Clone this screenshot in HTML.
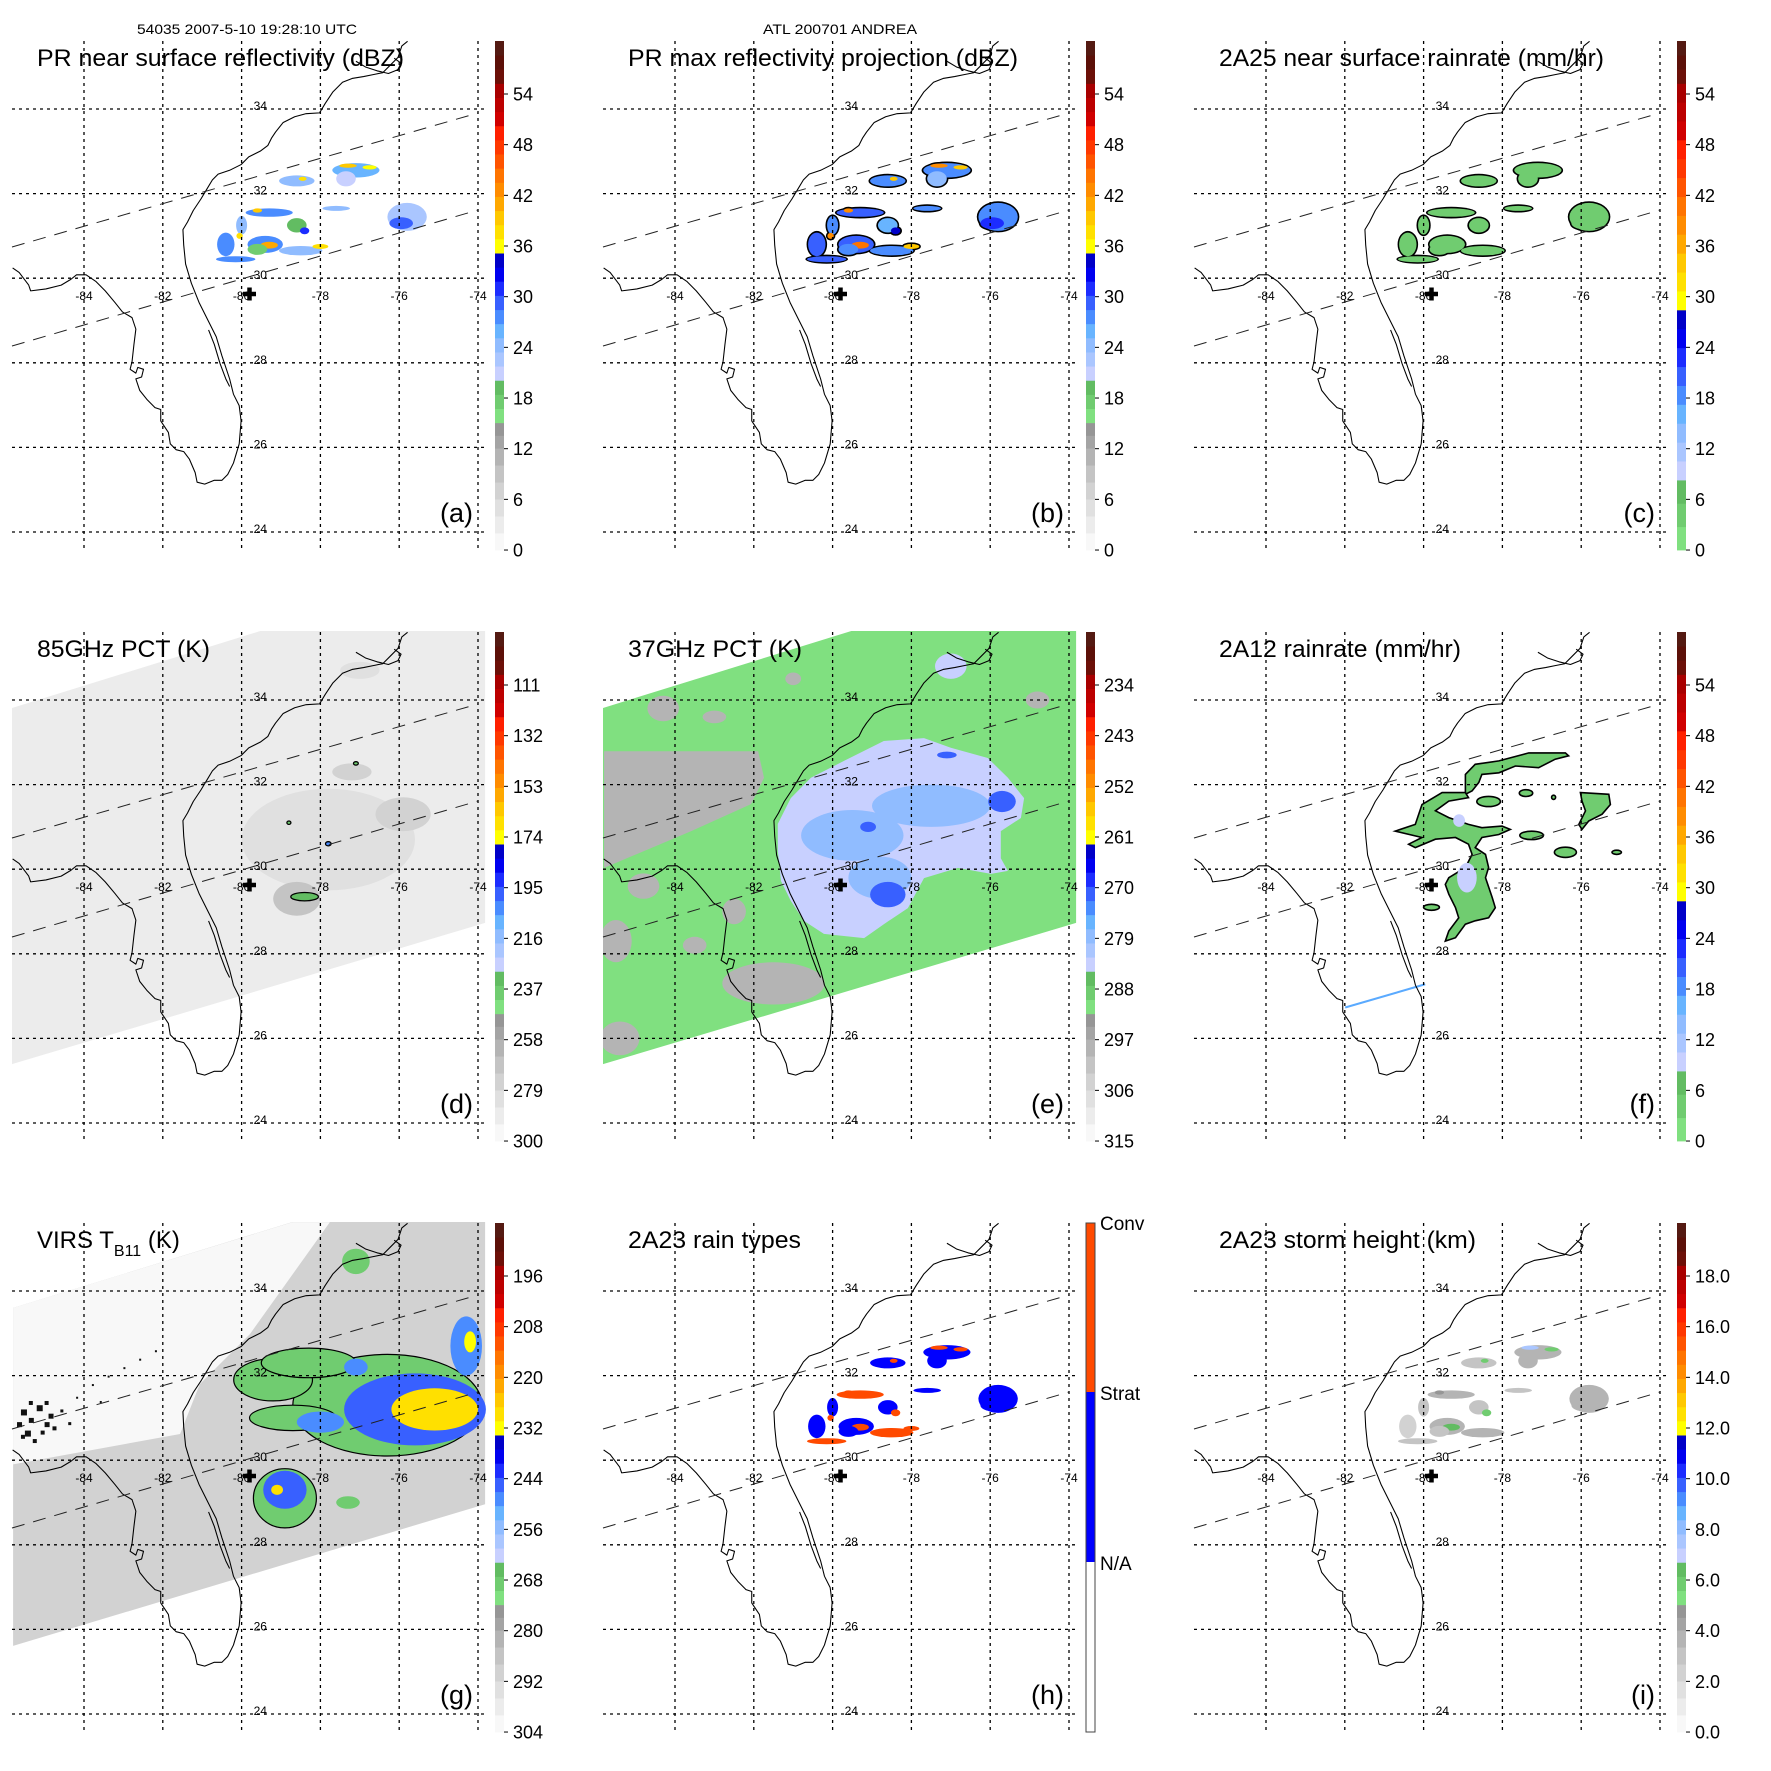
<!DOCTYPE html>
<html><head><meta charset="utf-8"><title>TRMM overpass ANDREA</title>
<style>
html,body{margin:0;padding:0;background:#fff;}
svg{display:block;font-family:"Liberation Sans",Arial,sans-serif;}
</style></head>
<body>
<svg id="fig" xmlns="http://www.w3.org/2000/svg" width="1771" height="1771" viewBox="0 0 1771 1771">
<rect width="1771" height="1771" fill="#fff"/>
</svg>
<script>
// ---------- shared rain-cell geometry (lon, lat, radius lon deg, radius lat deg) ----------
const cellLon=[-77.1,-77.35,-77.3,-76.75,-78.6,-78.45,-75.8,-75.95,-79.3,-79.6,-77.6,-78.6,-78.4,-79.4,-79.3,-79.6,-78.5,-78.0,-80.4,-80.15,-80.0,-80.05];
const cellLat=[32.55,32.35,32.66,32.62,32.3,32.35,31.45,31.3,31.55,31.6,31.65,31.25,31.12,30.8,30.78,30.68,30.65,30.75,30.8,30.45,31.25,31.0];
const cellRx=[0.6,0.25,0.22,0.18,0.45,0.1,0.5,0.3,0.6,0.12,0.35,0.25,0.12,0.45,0.22,0.25,0.55,0.2,0.22,0.5,0.14,0.08];
const cellRy=[0.17,0.18,0.05,0.05,0.13,0.05,0.33,0.14,0.1,0.05,0.06,0.17,0.08,0.2,0.08,0.13,0.11,0.06,0.28,0.07,0.22,0.07];
// per-panel values
const valsA=[26,21,39,36,25,38,23,29,27,39,24,20,31,28,41,17,24,37,28,27,25,38];
const valsB=[28,24,42,40,27,40,27,31,29,42,28,26,34,30,44,27,28,40,30,29,28,42];
const valsC=[4,3,null,null,3,null,4,5,3,null,3,3,null,4,null,3,4,null,3,3,3,null];
const valsH=[1,1,2,2,1,2,1,1,2,2,1,1,2,1,2,1,2,2,1,2,1,2];
const valsI=[3.5,4,7.8,6,3.2,6,4,3.6,3.4,5,3,3.2,6,3.8,6.5,3,3.5,null,2.5,2.8,3,null];

// ---------- swaths (lon/lat corners) ----------
const swathTMI=[[-85.83,33.81],[-73.82,37.28],[-73.82,28.73],[-85.83,25.39]];
const swathVIRS=[[-85.80,33.60],[-73.82,37.03],[-73.82,28.96],[-85.80,25.61]];
// ---------- panel d (85GHz PCT) ----------
const bgD=290;
const patchD=[[-77.8,30.7,2.2,1.2,283],[-75.9,31.3,0.7,0.4,272],[-78.6,29.3,0.6,0.4,270],[-77.2,32.3,0.5,0.2,274],[-77.0,34.7,0.5,0.2,280]];
const spotD=[[-78.4,29.35,0.35,0.1,235],[-77.1,32.5,0.06,0.04,236],[-78.8,31.1,0.05,0.04,236],[-77.8,30.6,0.07,0.05,205]];
// ---------- panel e (37GHz PCT) ----------
const bgE=290;
const grayPolyE=[[-85.8,32.79],[-81.89,32.79],[-81.74,32.16],[-82.07,31.54],[-83.59,30.9],[-85.8,30.03]];
const grayCellE=[[-81.5,27.3,1.3,0.5,298],[-85.5,28.3,0.4,0.5,298],[-85.4,26.0,0.5,0.4,298],[-84.3,33.8,0.4,0.3,298],[-82.5,29.0,0.3,0.3,298],[-83.0,33.6,0.3,0.15,298],[-81.0,34.5,0.2,0.15,298],[-84.8,29.6,0.4,0.3,298],[-83.5,28.2,0.3,0.2,298],[-74.8,34.0,0.3,0.2,298]];
const blobE=[[-81.39,31.07],[-81.06,31.68],[-80.55,32.16],[-79.71,32.56],[-78.7,33.03],[-77.68,33.1],[-77.0,32.87],[-76.06,32.63],[-75.55,32.16],[-75.14,31.68],[-75.22,31.21],[-75.73,30.9],[-75.73,30.26],[-75.55,29.96],[-75.98,29.89],[-76.82,30.03],[-77.68,29.79],[-78.09,29.08],[-78.7,28.7],[-79.2,28.37],[-80.22,28.47],[-80.73,28.78],[-81.06,29.25],[-81.31,29.72],[-81.39,30.43]];
const blobValE=284;
const coreE=[[-79.5,30.8,1.3,0.6,278],[-77.5,31.5,1.5,0.5,278],[-78.8,29.8,0.8,0.5,278],[-78.6,29.4,0.45,0.3,270],[-75.7,31.6,0.35,0.25,271],[-77.1,32.7,0.25,0.08,271],[-79.1,31.0,0.2,0.12,272],[-77.0,34.8,0.4,0.3,284]];
// ---------- panel f (2A12) ----------
const polyF1=[[-78.94,32.24],[-78.69,32.48],[-78.09,32.56],[-77.33,32.75],[-76.4,32.75],[-76.32,32.68],[-76.66,32.6],[-77.08,32.4],[-77.67,32.44],[-78.09,32.28],[-78.52,32.24],[-78.6,32.05],[-78.77,31.85],[-78.94,31.77]];
const polyF2=[[-80.72,30.9],[-80.21,31.06],[-80.04,31.53],[-79.53,31.81],[-78.94,31.81],[-78.86,31.69],[-79.36,31.61],[-79.7,31.38],[-79.36,31.22],[-78.86,31.06],[-78.52,30.98],[-78.01,31.02],[-77.8,30.94],[-78.09,30.82],[-78.52,30.75],[-78.69,30.51],[-78.43,30.35],[-78.35,30.04],[-78.43,29.8],[-78.26,29.33],[-78.18,29.09],[-78.35,28.85],[-78.69,28.78],[-78.94,28.7],[-79.19,28.38],[-79.45,28.3],[-79.36,28.54],[-79.11,28.85],[-79.19,29.09],[-79.36,29.41],[-79.45,29.64],[-79.36,29.8],[-78.94,30.04],[-78.77,30.35],[-78.86,30.59],[-79.19,30.75],[-79.7,30.71],[-80.21,30.51],[-80.38,30.59],[-80.04,30.75]];
const polyF3=[[-76.02,31.81],[-75.3,31.77],[-75.26,31.53],[-75.47,31.3],[-75.81,31.14],[-75.98,30.94],[-76.06,31.06],[-75.89,31.38],[-75.98,31.61]];
const polyValF=3;
const cellF=[[-77.4,31.8,0.17,0.08,3],[-78.35,31.6,0.3,0.12,3],[-77.26,30.8,0.3,0.1,3],[-76.4,30.4,0.28,0.12,3],[-79.8,29.1,0.2,0.07,3],[-79.1,31.15,0.15,0.15,9],[-78.9,29.8,0.25,0.35,9],[-75.1,30.4,0.12,0.05,3],[-76.7,31.7,0.05,0.05,3]];
const lineF=[[-81.99,26.73],[-79.96,27.28]];
// ---------- panel g (VIRS) ----------
const bgG=291;
const landG=[[-85.8,33.6],[-78.7,35.63],[-77.76,35.63],[-79.79,32.98],[-81.06,31.8],[-81.56,30.62],[-85.8,29.9]];
const landValG=301;
const cloudG=[[-76.3,31.3,2.4,1.2,270],[-75.6,31.2,1.8,0.85,247],[-75.1,31.2,1.1,0.5,230],[-74.3,32.7,0.4,0.7,248],[-74.2,32.8,0.15,0.25,231],
[-79.2,31.9,1.0,0.5,270],[-78.3,32.3,1.2,0.35,270],[-78.7,31.0,1.1,0.3,270],[-78.0,30.9,0.6,0.25,250],[-77.1,32.2,0.3,0.2,250],
[-78.9,29.1,0.8,0.7,270],[-78.9,29.3,0.55,0.45,246],[-79.1,29.3,0.15,0.12,230],[-77.3,29.0,0.3,0.15,270],[-77.1,34.7,0.35,0.3,268]];
const speckDotsG=[[-85.6,31.2],[-85.4,31.0],[-85.2,31.3],[-85.0,30.9],[-85.5,30.7],[-85.3,30.5],[-84.9,31.1],[-85.7,30.9],[-85.1,30.7],[-84.8,30.8],[-85.4,31.4],[-85.6,30.6],[-85.0,31.4],[-84.6,31.2],[-84.2,31.5],[-83.8,31.8],[-83.4,32.0],[-83.0,32.2],[-82.6,32.4],[-82.2,32.6],[-84.4,30.9],[-83.6,31.4]];
const speckSizeG=[6,5,6,5,6,4,5,5,4,4,4,4,4,3,2,2,2,2,2,2,3,2];

// ---------- colormaps (band start in 0..60 bar units) ----------
const bandsA=[[0,'#f8f8f8'],[2,'#ececec'],[4,'#e0e0e0'],[6,'#d2d2d2'],[8,'#c4c4c4'],[10,'#b4b4b4'],[12,'#a4a4a4'],[13.5,'#969696'],[15,'#80e080'],[16.67,'#70cc70'],[18.33,'#62bc62'],[20,'#c8d0ff'],[21.67,'#aac6ff'],[23.33,'#90bcff'],[25,'#68b4ff'],[26.67,'#4a8cff'],[28.33,'#3860ff'],[30,'#1c2cff'],[31.67,'#0000f0'],[33.33,'#0000c8'],[35,'#ffff00'],[36.67,'#ffe000'],[38.33,'#ffc800'],[40,'#ffa800'],[41.67,'#ff8c00'],[43.33,'#ff7400'],[45,'#ff5400'],[46.67,'#ff3800'],[48.33,'#ff2000'],[50,'#d00000'],[51.67,'#bc0000'],[53.33,'#a80000'],[55,'#6c1008'],[56.67,'#5c1008'],[58.33,'#541a12']];
const bandsC=[[0,'#80e080'],[2.75,'#70cc70'],[5.5,'#62bc62'],[8.25,'#c8d0ff'],[10.48,'#aac6ff'],[12.7,'#90bcff'],[14.93,'#68b4ff'],[17.16,'#4a8cff'],[19.38,'#3860ff'],[21.61,'#1c2cff'],[23.84,'#0000f0'],[26.07,'#0000c8'],[28.3,'#ffff00'],[30.53,'#ffe000'],[32.75,'#ffc800'],[34.98,'#ffa800'],[37.21,'#ff8c00'],[39.43,'#ff7400'],[41.66,'#ff5400'],[43.89,'#ff3800'],[46.11,'#ff2000'],[48.34,'#d00000'],[50.56,'#bc0000'],[52.78,'#a80000'],[55,'#6c1008'],[56.67,'#5c1008'],[58.33,'#541a12']];

const ticksA=['54','48','42','36','30','24','18','12','6','0'];
const ticksD=['111','132','153','174','195','216','237','258','279','300'];
const ticksE=['234','243','252','261','270','279','288','297','306','315'];
const ticksG=['196','208','220','232','244','256','268','280','292','304'];
const ticksI=['18.0','16.0','14.0','12.0','10.0','8.0','6.0','4.0','2.0','0.0'];
const latTicks=[34,32,30,28,26,24];
const lonTicks=[-84,-82,-80,-78,-76,-74];

// coastline (panel px * 2.613)
const coastMain="33,700 50,712 75,745 80,760 120,755 160,745 185,730 200,718 225,718 250,735 275,760 300,790 320,815 345,830 355,860 350,900 345,945 340,965 355,975 360,960 375,965 370,985 355,990 365,1020 385,1045 405,1065 420,1070 420,1100 430,1115 440,1130 445,1160 460,1175 480,1180 495,1200 510,1235 515,1260 535,1265 560,1255 580,1255 595,1240 610,1210 625,1160 630,1100 625,1060 610,1030 600,990 580,930 565,880 545,840 520,790 500,740 485,690 480,640 478,600 490,580 505,550 525,520 540,495 555,470 570,455 600,445 630,430 650,410 680,395 700,380 710,360 720,345 740,320 770,305 800,297 835,295 850,270 870,240 895,215 920,205 950,200 975,195 1000,190 1020,170 1040,150 1050,120 1065,108";
const coastSound="930,160 955,175 985,185 1015,192 1040,182 1048,165 1030,152";
const coastLagoon="545,862 560,900 575,950 590,990 600,1010";

const NS='http://www.w3.org/2000/svg';
const fig=document.getElementById('fig');
function mk(tag,attrs,parent){const e=document.createElementNS(NS,tag);for(const k in attrs)e.setAttribute(k,attrs[k]);parent.appendChild(e);return e;}
function X(lon){return 84+(lon+84)*39.4;}
function Y(lat){return 109+(34-lat)*42.3;}
const BAR_TOP=41,BAR_BOT=550,BAR_H=509;
function bandColor(bands,u){let c=bands[0][1];for(const b of bands){if(u>=b[0])c=b[1];}return c;}
function colorOf(p,v){
  if(p.cmap==='H')return v===2?'#ff4a00':'#0000ff';
  const f=(v-p.vb)/(p.vt-p.vb);
  const u=Math.max(0,Math.min(59.99,f*60));
  return bandColor(p.cmap==='C'?bandsC:bandsA,u);
}
function ptsStr(arr){return arr.map(q=>X(q[0]).toFixed(1)+','+Y(q[1]).toFixed(1)).join(' ');}

const panels=[
 {id:'a',col:0,row:0,title:'PR near surface reflectivity (dBZ)',tw:367,header:'54035 2007-5-10 19:28:10 UTC',hx:137,hw:220,cmap:'A',ticks:ticksA,vb:0,vt:60.3,vals:valsA},
 {id:'b',col:1,row:0,title:'PR max reflectivity projection (dBZ)',tw:390,header:'ATL 200701 ANDREA',hx:172,hw:154,cmap:'A',ticks:ticksA,vb:0,vt:60.3,vals:valsB,outline:true},
 {id:'c',col:2,row:0,title:'2A25 near surface rainrate (mm/hr)',tw:385,cmap:'C',ticks:ticksA,vb:0,vt:60.3,vals:valsC,outline:true},
 {id:'d',col:0,row:1,title:'85GHz PCT (K)',tw:173,cmap:'A',ticks:ticksD,vb:300,vt:89},
 {id:'e',col:1,row:1,title:'37GHz PCT (K)',tw:174,cmap:'A',ticks:ticksE,vb:315,vt:224.6},
 {id:'f',col:2,row:1,title:'2A12 rainrate (mm/hr)',tw:242,cmap:'C',ticks:ticksA,vb:0,vt:60.3},
 {id:'g',col:0,row:2,title:'VIRS',cmap:'A',ticks:ticksG,vb:304,vt:183.5},
 {id:'h',col:1,row:2,title:'2A23 rain types',tw:173,cmap:'H',vals:valsH},
 {id:'i',col:2,row:2,title:'2A23 storm height (km)',tw:257,cmap:'A',ticks:ticksI,vb:0,vt:20.1,vals:valsI}
];

function ell(g,p,lon,lat,rx,ry,v,name){
  const e=mk('ellipse',{cx:X(lon).toFixed(1),cy:Y(lat).toFixed(1),rx:(rx*39.4).toFixed(1),ry:(ry*42.3).toFixed(1),fill:colorOf(p,v)},g);
  
  
  return e;
}
function poly(g,p,arr,v,name){
  const e=mk('polygon',{points:ptsStr(arr),fill:colorOf(p,v)},g);
  
  
  return e;
}

panels.forEach(p=>{
  const G=mk('g',{transform:'translate('+(p.col*591)+','+(p.row*591)+')'},fig);
  
  
  const cp=mk('clipPath',{id:'clip-'+p.id},G);
  mk('rect',{x:12,y:40,width:474,height:512},cp);
  const D=mk('g',{'clip-path':'url(#clip-'+p.id+')'},G);
  
  

  if(p.id==='d'){
    poly(D,p,swathTMI,bgD,'swath-85ghz');
    patchD.forEach(c=>ell(D,p,c[0],c[1],c[2],c[3],c[4],'pct-depression'));
    spotD.forEach(c=>{const e=ell(D,p,c[0],c[1],c[2],c[3],c[4],'ice-scatter-cell');e.setAttribute('stroke','#000');e.setAttribute('stroke-width','1.3');});
  }
  if(p.id==='e'){
    poly(D,p,swathTMI,bgE,'swath-37ghz');
    poly(D,p,grayPolyE,298,'land-warm-region');
    grayCellE.forEach(c=>ell(D,p,c[0],c[1],c[2],c[3],c[4],'land-warm-patch'));
    poly(D,p,blobE,blobValE,'rain-emission-region');
    coreE.forEach(c=>ell(D,p,c[0],c[1],c[2],c[3],c[4],'rain-core'));
  }
  if(p.id==='g'){
    poly(D,p,swathVIRS,bgG,'swath-virs');
    poly(D,p,landG,landValG,'warm-land-region');
    speckDotsG.forEach((c,i)=>{const e=mk('rect',{x:X(c[0]),y:Y(c[1]),width:speckSizeG[i],height:speckSizeG[i],fill:'#111'},D);
      
      });
    cloudG.forEach((c,i)=>{const e=ell(D,p,c[0],c[1],c[2],c[3],c[4],'cloud-cell');if(i===0||i===5||i===6||i===7||i===10){e.setAttribute('stroke','#000');e.setAttribute('stroke-width','1.2');}});
  }
  if(p.id==='f'){
    [polyF1,polyF2,polyF3].forEach(pp=>{const e=poly(D,p,pp,polyValF,'rain-contour-region');e.setAttribute('stroke','#000');e.setAttribute('stroke-width','1.6');});
    cellF.forEach(c=>{const e=ell(D,p,c[0],c[1],c[2],c[3],c[4],'rain-cell');if(c[4]<8){e.setAttribute('stroke','#000');e.setAttribute('stroke-width','1.6');}});
    const l=mk('line',{x1:X(lineF[0][0]),y1:Y(lineF[0][1]),x2:X(lineF[1][0]),y2:Y(lineF[1][1]),stroke:'#5aaaff','stroke-width':2},D);
    
    
  }
  if(p.vals){
    if(p.outline){
      p.vals.forEach((v,i)=>{if(v===null)return;
        const e=mk('ellipse',{cx:X(cellLon[i]),cy:Y(cellLat[i]),rx:cellRx[i]*39.4+1.6,ry:cellRy[i]*42.3+1.6,fill:'#000'},D);
        
        });
    }
    p.vals.forEach((v,i)=>{if(v===null)return;ell(D,p,cellLon[i],cellLat[i],cellRx[i],cellRy[i],v,'rain-cell-'+i);});
  }

  // coastline
  const C=mk('g',{transform:'scale(0.38270)',fill:'none',stroke:'#000','stroke-width':2.8,'stroke-linejoin':'round'},G);
  
  
  mk('polyline',{points:coastMain},C);
  mk('polyline',{points:coastSound},C);
  mk('polyline',{points:coastLagoon},C);

  // grid
  const Gr=mk('g',{stroke:'#000','stroke-width':1.3,'stroke-dasharray':'3,4'},G);
  
  
  latTicks.forEach(t=>mk('line',{x1:12,x2:486,y1:Y(t),y2:Y(t)},Gr));
  lonTicks.forEach(t=>mk('line',{x1:X(t),x2:X(t),y1:41,y2:552},Gr));
  // swath edges
  const S=mk('g',{stroke:'#222','stroke-width':1,'stroke-dasharray':'13,9'},G);
  
  
  mk('line',{x1:12,y1:247,x2:478,y2:113},S);
  mk('line',{x1:12,y1:346,x2:478,y2:210},S);
  // tick labels
  latTicks.forEach(t=>{const tx=mk('text',{x:X(-80)+12,y:Y(t)+1,'font-size':12},G);tx.textContent=String(t);
    
    });
  lonTicks.forEach(t=>{const tx=mk('text',{x:X(t),y:300,'font-size':12,'text-anchor':'middle'},G);tx.textContent=String(t);
    
    });
  // cross marker
  const cr=mk('path',{d:'M243,294 h13 M249.5,287.5 v13',stroke:'#000','stroke-width':4.5},G);
  
  

  // title
  const tt=mk('text',{x:37,y:66,'font-size':24},G);
  if(p.id==='g'){
    tt.innerHTML='VIRS T<tspan font-size="16" dy="8">B11</tspan><tspan dy="-8"> (K)</tspan>';
  } else {
    tt.textContent=p.title;
    tt.setAttribute('textLength',p.tw);
    tt.setAttribute('lengthAdjust','spacingAndGlyphs');
  }
  
  
  if(p.header){
    const h=mk('text',{x:p.hx,y:34,'font-size':14,textLength:p.hw,lengthAdjust:'spacingAndGlyphs'},G);
    h.textContent=p.header;
    
    
  }
  const pl=mk('text',{x:473,y:522,'font-size':27,'text-anchor':'end'},G);
  pl.textContent='('+p.id+')';
  
  

  // colorbar
  const CB=mk('g',{},G);
  
  
  if(p.cmap==='H'){
    mk('rect',{x:495,y:41,width:9,height:169,fill:'#ff4a00'},CB);
    mk('rect',{x:495,y:210,width:9,height:170,fill:'#0000ff'},CB);
    mk('rect',{x:495,y:380,width:9,height:170,fill:'#fff'},CB);
    mk('rect',{x:495,y:41,width:9,height:509,fill:'none',stroke:'#444','stroke-width':1},CB);
    [['Conv',48],['Strat',218],['N/A',388]].forEach(q=>{const t=mk('text',{x:509,y:q[1],'font-size':19},CB);t.textContent=q[0];
      
      });
  } else {
    const bands=p.cmap==='C'?bandsC:bandsA;
    bands.forEach((b,i)=>{const u0=b[0],u1=i+1<bands.length?bands[i+1][0]:60;
      const y1=BAR_BOT-u1/60*BAR_H,y0=BAR_BOT-u0/60*BAR_H;
      mk('rect',{x:495,y:y1.toFixed(2),width:9,height:(y0-y1+0.4).toFixed(2),fill:b[1]},CB);});
    p.ticks.forEach((t,i)=>{const yy=94+i*50.67;
      mk('line',{x1:504,x2:508,y1:yy,y2:yy,stroke:'#000','stroke-width':1},CB);
      const tx=mk('text',{x:513,y:yy+6.5,'font-size':18},CB);tx.textContent=t;
      
      });
  }
});
</script>
</body></html>
